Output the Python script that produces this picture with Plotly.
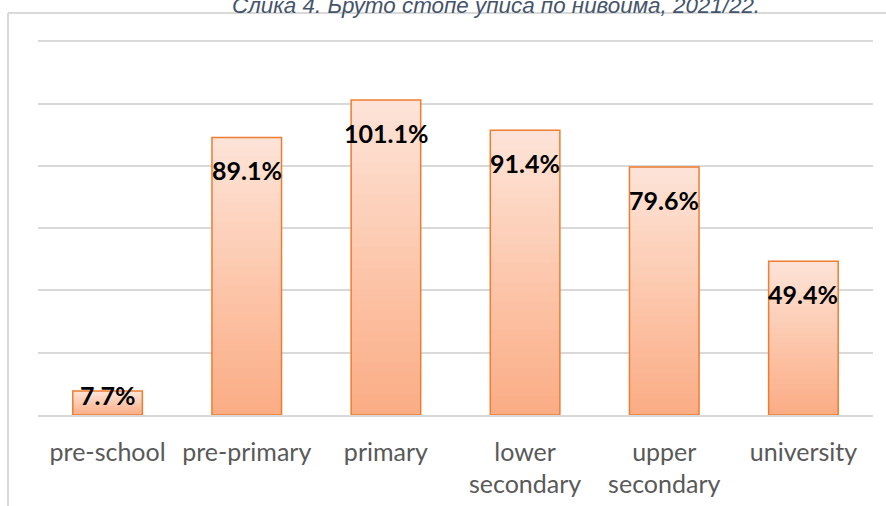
import plotly.graph_objects as go

# Gross enrolment rates by level of education, 2021/22
categories = ["pre-school", "pre-primary", "primary", "lower<br>secondary", "upper<br>secondary", "university"]
rates = [7.7, 89.1, 101.1, 91.4, 79.6, 49.4]
y_ticks = [0, 20, 40, 60, 80, 100, 120]
title_text = "Слика 4. Бруто стопе уписа по нивоима, 2021/22."

# gradient fill: light peach at the top of each bar, deeper peach at its base
top_rgb = (253, 228, 216)
bottom_rgb = (251, 172, 132)
n_steps = 30


def blend(t):
    r, g, b = (round(bottom_rgb[k] + (top_rgb[k] - bottom_rgb[k]) * t) for k in range(3))
    return f"rgb({r},{g},{b})"


fig = go.Figure()
for i in range(n_steps):
    frac = (i + 0.5) / n_steps
    # each slice overlaps the next one so no seams show between them
    seg_top = min(i + 2, n_steps)
    fig.add_trace(go.Bar(
        x=categories,
        y=[v * (seg_top - i) / n_steps for v in rates],
        base=[v * i / n_steps for v in rates],
        width=0.5,
        marker=dict(color=blend(frac), line=dict(width=0)),
        hoverinfo="skip",
        showlegend=False,
    ))

# bar outlines
fig.add_trace(go.Bar(
    x=categories,
    y=rates,
    width=0.5,
    marker=dict(color="rgba(0,0,0,0)", line=dict(color="#ed7d31", width=1.5)),
    showlegend=False,
))

# value labels just inside the top of each bar
for cat, v in zip(categories, rates):
    fig.add_annotation(
        x=cat, y=v, xref="x", yref="y",
        text=f"<b>{v:.1f}%</b>",
        showarrow=False,
        yanchor="middle",
        yshift=-33 if v > 20 else -4,
        font=dict(family="Lato", size=25, color="#000000"),
    )

fig.add_annotation(
    x=0.548, y=1.0779, xref="paper", yref="paper",
    text=f"<i>{title_text}</i>",
    showarrow=False, yanchor="middle",
    font=dict(family="Liberation Sans", size=22.4, color="#44546a"),
)

# frame around the chart area
fig.add_shape(type="line", xref="paper", yref="paper",
              x0=-0.0359, x1=1.02, y0=1.0579, y1=1.0579,
              line=dict(color="#d9d9d9", width=2))
fig.add_shape(type="line", xref="paper", yref="paper",
              x0=-0.0359, x1=-0.0359, y0=1.0579, y1=-0.3,
              line=dict(color="#d9d9d9", width=2))

fig.update_layout(
    width=886, height=506,
    margin=dict(l=38, r=13, t=35, b=91),
    paper_bgcolor="white", plot_bgcolor="white",
    barmode="overlay",
    bargap=0.5,
    xaxis=dict(
        showgrid=False, showline=True, linecolor="#d9d9d9", linewidth=1.5,
        ticks="", ticklabelstandoff=14, automargin=False,
        tickfont=dict(family="Lato", size=25, color="#595959"),
    ),
    yaxis=dict(
        range=[0, 122], tickvals=y_ticks, showticklabels=False,
        showgrid=True, gridcolor="#d9d9d9", gridwidth=1.5,
        zeroline=False, showline=False, automargin=False,
    ),
)

fig.write_html("out.html")
